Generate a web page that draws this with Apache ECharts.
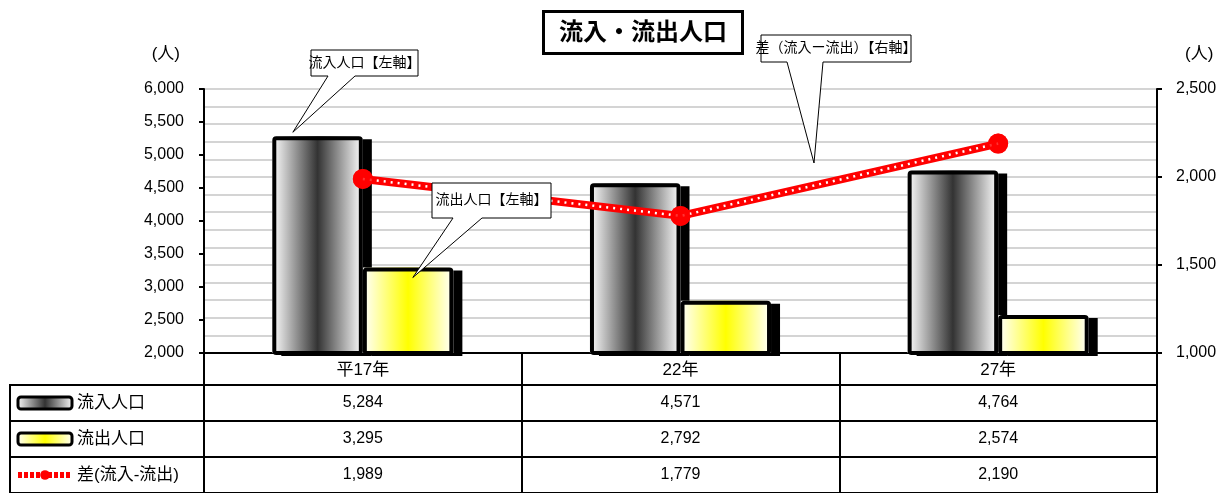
<!DOCTYPE html>
<html><head><meta charset="utf-8">
<script src="https://cdn.jsdelivr.net/npm/echarts@6/dist/echarts.min.js"></script>
<style>html,body{margin:0;padding:0;background:#fff}#c{width:1231px;height:493px}</style>
</head><body><div id="c"></div>
<script>
// ---- data ----
const categories = ['平17年', '22年', '27年'];
const inflow = [5284, 4571, 4764];
const outflow = [3295, 2792, 2574];
const diff = [1989, 1779, 2190];
const seriesNames = ['流入人口', '流出人口', '差(流入-流出)'];
const leftTicks = { min: 2000, max: 6000, interval: 500 };
const rightTicks = { min: 1000, max: 2500, interval: 500 };
const titleText = '流入・流出人口';
const unitLabel = '(人)';
const calloutTexts = ['流入人口【左軸】', '流出人口【左軸】', '差（流入ー流出）【右軸】'];

// ---- layout ----
const FONT = "'Liberation Sans', 'Noto Sans CJK JP', sans-serif";
const PL = 204, PR = 74, PT = 89, PH = 264;
const catRowH = 32, rowH = 36;
const tableTop = PT + PH;
const rowsTop = tableTop + catRowH;
const tableRows = [inflow, outflow, diff];
const fmt = v => Number(v).toLocaleString('en-US');

const grids = [{ left: PL, right: PR, top: PT, height: PH }];
grids.push({ left: PL, right: PR, top: tableTop, height: catRowH, show: true, borderColor: '#000', borderWidth: 2 });
for (let i = 0; i < 3; i++) grids.push({ left: PL, right: PR, top: rowsTop + rowH * i, height: rowH, show: true, borderColor: '#000', borderWidth: 2 });
for (let i = 0; i < 3; i++) grids.push({ left: 10, width: PL - 10, top: rowsTop + rowH * i, height: rowH, show: true, borderColor: '#000', borderWidth: 2 });

const xAxes = [{
  type: 'category', gridIndex: 0, data: categories,
  axisLine: { lineStyle: { color: '#000', width: 2 } },
  axisTick: { show: false },
  axisLabel: { margin: 17, verticalAlign: 'middle', fontSize: 17, color: '#000', fontFamily: FONT }
}, {
  type: 'category', gridIndex: 1, data: categories,
  axisLine: { show: false }, axisTick: { show: false }, axisLabel: { show: false },
  splitLine: { show: true, lineStyle: { color: '#000', width: 2 } }
}];
tableRows.forEach((arr, i) => {
  xAxes.push({
    type: 'category', gridIndex: 2 + i, data: categories,
    axisLine: { show: false }, axisTick: { show: false },
    axisLabel: { inside: true, margin: rowH / 2, verticalAlign: 'middle', fontSize: 16, color: '#000', fontFamily: FONT,
      formatter: (v, idx) => fmt(arr[idx]) },
    splitLine: { show: true, lineStyle: { color: '#000', width: 2 } }
  });
});
for (let i = 0; i < 3; i++) xAxes.push({ type: 'category', gridIndex: 5 + i, data: [''], show: false });
// hidden twin of the category axis, used to draw bar outlines over the shadowed fills
const outlineAxis = xAxes.length;
xAxes.push({ type: 'category', gridIndex: 0, data: categories, show: false, position: 'top' });

const yAxes = [{
  type: 'value', gridIndex: 0, position: 'left', ...leftTicks,
  name: unitLabel, nameLocation: 'end', nameGap: 26,
  nameTextStyle: { align: 'right', padding: [0, 24, 0, 0], fontSize: 17, color: '#000', fontFamily: FONT },
  axisLine: { show: true, lineStyle: { color: '#000', width: 2 } },
  axisTick: { show: true, length: 5, lineStyle: { color: '#000', width: 2 } },
  axisLabel: { margin: 20, fontSize: 16, color: '#000', fontFamily: FONT, formatter: v => fmt(v) },
  splitLine: { show: false }
}, {
  type: 'value', gridIndex: 0, position: 'right', ...rightTicks,
  name: unitLabel, nameLocation: 'end', nameGap: 26,
  nameTextStyle: { align: 'left', padding: [0, 0, 0, 28], fontSize: 17, color: '#000', fontFamily: FONT },
  axisLine: { show: true, lineStyle: { color: '#000', width: 2 } },
  axisTick: { show: true, length: 5, lineStyle: { color: '#000', width: 2 } },
  axisLabel: { margin: 19, fontSize: 16, color: '#000', fontFamily: FONT, formatter: v => fmt(v) },
  splitLine: { show: true, lineStyle: { color: '#c6c6c6', width: 1.5 } },
  minorTick: { show: false, splitNumber: 5 },
  minorSplitLine: { show: true, lineStyle: { color: '#c6c6c6', width: 1.5 } }
}];
for (let i = 1; i < 8; i++) yAxes.push({ type: 'value', gridIndex: i, show: false });

const grad = mid => new echarts.graphic.LinearGradient(0, 0, 1, 0, [
  { offset: 0, color: '#ffffff' }, { offset: 0.5, color: mid }, { offset: 1, color: '#ffffff' }]);

const fillBar = (name, data, mid) => ({
  name, type: 'bar', xAxisIndex: 0, yAxisIndex: 0, data, barGap: '0%', barCategoryGap: '43%',
  itemStyle: { color: grad(mid), borderWidth: 0, shadowColor: '#000', shadowOffsetX: 9, shadowOffsetY: 3, shadowBlur: 0 }
});
const outlineBar = (name, data) => ({
  name, type: 'bar', xAxisIndex: outlineAxis, yAxisIndex: 0, data, barGap: '0%', barCategoryGap: '43%', silent: true,
  itemStyle: { color: 'rgba(0,0,0,0)', borderColor: '#000', borderWidth: 4, borderRadius: 2 }
});

const option = {
  animation: false,
  textStyle: { fontFamily: FONT },
  title: {
    text: titleText, left: 543, top: 11,
    textStyle: { fontSize: 24, fontWeight: 'bold', color: '#000', fontFamily: FONT },
    borderColor: '#000', borderWidth: 3, padding: [10, 16, 9, 16], backgroundColor: '#fff'
  },
  legend: {
    orient: 'vertical', left: 15, top: rowsTop + 8, padding: 0,
    itemWidth: 54, itemHeight: 12, itemGap: 16, selectedMode: false,
    textStyle: { fontSize: 17, lineHeight: 20, color: '#000', fontFamily: FONT },
    data: [
      { name: seriesNames[0], icon: 'roundRect', itemStyle: { borderWidth: 3, borderColor: '#000' } },
      { name: seriesNames[1], icon: 'roundRect', itemStyle: { borderWidth: 3, borderColor: '#000' } },
      { name: seriesNames[2], lineStyle: { width: 6, color: '#ff0000', type: [4, 2] }, itemStyle: { color: '#ff0000' } }
    ]
  },
  grid: grids,
  xAxis: xAxes,
  yAxis: yAxes,
  series: [
    fillBar(seriesNames[0], inflow, '#333333'),
    fillBar(seriesNames[1], outflow, '#ffff00'),
    outlineBar('inflowOutline', inflow),
    outlineBar('outflowOutline', outflow),
    { name: seriesNames[2], type: 'line', xAxisIndex: 0, yAxisIndex: 1, data: diff, z: 3,
      symbol: 'circle', symbolSize: 20, itemStyle: { color: '#ff0000' },
      lineStyle: { color: '#ff0000', width: 8 } },
    { name: 'diffDots', type: 'line', xAxisIndex: 0, yAxisIndex: 1, data: diff, z: 4, silent: true,
      showSymbol: false, symbol: 'none',
      lineStyle: { color: '#ffffff', width: 2.5, type: [2, 5], cap: 'butt' } },
    { name: 'diffPts', type: 'scatter', xAxisIndex: 0, yAxisIndex: 1, data: diff, z: 5, silent: true,
      symbol: 'circle', symbolSize: 20, itemStyle: { color: '#ff0000' } }
  ]
};

const chart = echarts.init(document.getElementById('c'), null, { renderer: 'canvas' });
chart.setOption(option);

// ---- callouts (annotation bubbles) ----
function bubble(box, base, tip, text, fs) {
  const [x0, y0, x1, y1] = box;
  return {
    type: 'group', z: 100, children: [
      { type: 'polygon', z: 100,
        shape: { points: [[x0, y0], [x1, y0], [x1, y1], [base[1], y1], tip, [base[0], y1], [x0, y1]] },
        style: { fill: '#fff', stroke: '#000', lineWidth: 1 } },
      { type: 'text', z: 101, x: (x0 + x1) / 2, y: (y0 + y1) / 2,
        style: { text: text, fontSize: fs, fontFamily: FONT, fill: '#000', align: 'center', verticalAlign: 'middle' } }
    ]
  };
}
const p1 = chart.convertToPixel({ xAxisIndex: 0, yAxisIndex: 0 }, [0, inflow[0]]);
const p2 = chart.convertToPixel({ xAxisIndex: 0, yAxisIndex: 0 }, [0, outflow[0]]);
chart.setOption({
  graphic: [
    bubble([311, 50, 418, 76], [328, 355], [p1[0] - 70, p1[1] - 4], calloutTexts[0], 14),
    bubble([432, 183, 551, 218], [453, 482], [p2[0] + 50, p2[1] + 10], calloutTexts[1], 14),
    bubble([761, 35, 911, 62], [787, 823], [814, 163], calloutTexts[2], 14)
  ]
});
</script>
</body></html>
